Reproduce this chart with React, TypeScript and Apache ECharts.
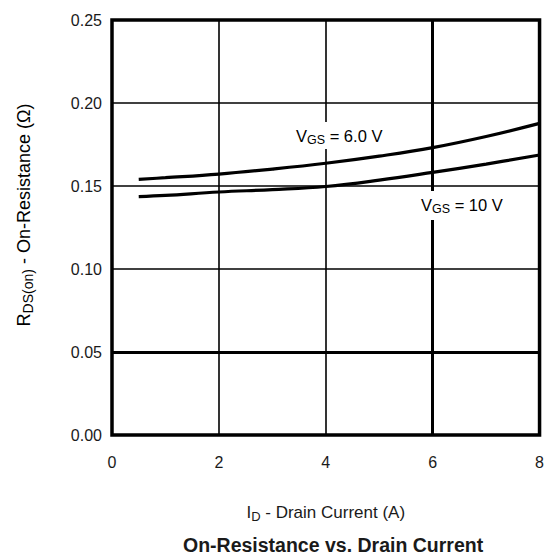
import React, { useEffect, useRef } from "react";
import * as echarts from "echarts";

const currentA = [0.5, 1, 2, 3, 4, 5, 6, 7, 8];
const rds6V = [0.154, 0.155, 0.1572, 0.1602, 0.1637, 0.168, 0.1731, 0.1798, 0.1877];
const rds10V = [0.1436, 0.1443, 0.1464, 0.1478, 0.1497, 0.1535, 0.1582, 0.1632, 0.1687];

const xGridValues = [2, 4, 6];
const xGridWidths = [1.6, 1.6, 3];
const yGridValues = [0.05, 0.1, 0.15, 0.2];
const yGridWidths = [3.2, 1.6, 1.6, 1.6];

const FONT = "'Liberation Sans', Arial, sans-serif";
const INK = "#1a1a1a";

export default function App() {
  const ref = useRef<HTMLDivElement>(null);
  useEffect(() => {
    if (!ref.current) return;
    const chart = echarts.init(ref.current, null, { renderer: "svg" });
    const gridLines: any[] = [];
    xGridValues.forEach((v, i) =>
      gridLines.push({ xAxis: v, lineStyle: { width: xGridWidths[i], color: "#000", type: "solid" } })
    );
    yGridValues.forEach((v, i) =>
      gridLines.push({ yAxis: v, lineStyle: { width: yGridWidths[i], color: "#000", type: "solid" } })
    );
    const labelRich = {
      v: { fontSize: 16.5, fontFamily: FONT, color: INK },
      sub: { fontSize: 12.5, fontFamily: FONT, color: INK, padding: [8, 0, 0, 0] },
    };
    const xNameRich = {
      v: { fontSize: 17, fontFamily: FONT, color: INK },
      sub: { fontSize: 13, fontFamily: FONT, color: INK, padding: [8, 0, 0, 0] },
    };
    const yNameRich = {
      v: { fontSize: 18, fontFamily: FONT, color: INK },
      sub: { fontSize: 14, fontFamily: FONT, color: INK, padding: [8, 0, 0, 0] },
    };
    chart.setOption({
      animation: false,
      backgroundColor: "#fff",
      textStyle: { fontFamily: FONT, color: INK },
      title: {
        text: "On-Resistance vs. Drain Current",
        left: 183,
        top: 535,
        padding: 0,
        textStyle: { fontSize: 19.5, fontWeight: "bold", color: INK, fontFamily: FONT },
      },
      grid: {
        left: 112,
        right: 4,
        top: 20,
        bottom: 122,
        show: true,
        borderWidth: 3.5,
        borderColor: "#000",
        backgroundColor: "#fff",
      },
      xAxis: {
        type: "value",
        min: 0,
        max: 8,
        interval: 2,
        name: "{v|I}{sub|D}{v| - Drain Current (A)}",
        nameLocation: "middle",
        nameGap: 67,
        nameTextStyle: { rich: xNameRich },
        axisLine: { show: false },
        axisTick: { show: false },
        splitLine: { show: false },
        axisLabel: { margin: 19, fontSize: 16, color: INK, fontFamily: FONT },
      },
      yAxis: {
        type: "value",
        min: 0,
        max: 0.25,
        interval: 0.05,
        axisLine: { show: false },
        axisTick: { show: false },
        splitLine: { show: false },
        axisLabel: {
          margin: 10,
          fontSize: 16,
          color: INK,
          fontFamily: FONT,
          formatter: (v: number) => v.toFixed(2),
        },
      },
      series: [
        {
          type: "line",
          data: [],
          silent: true,
          z: 1,
          markLine: {
            silent: true,
            symbol: "none",
            label: { show: false },
            animation: false,
            data: gridLines,
          },
        },
        {
          name: "VGS = 6.0 V",
          type: "line",
          smooth: 0.4,
          showSymbol: false,
          z: 3,
          lineStyle: { color: "#000", width: 3.2 },
          data: currentA.map((x, i) => [x, rds6V[i]]),
        },
        {
          name: "VGS = 10 V",
          type: "line",
          smooth: 0.4,
          showSymbol: false,
          z: 3,
          lineStyle: { color: "#000", width: 3.2 },
          data: currentA.map((x, i) => [x, rds10V[i]]),
        },
      ],
      graphic: [
        {
          type: "text",
          z: 100,
          x: 294,
          y: 122,
          style: {
            text: "{v|V}{sub|GS}{v| = 6.0 V}",
            rich: labelRich,
            backgroundColor: "#fff",
            padding: [3, 2, 3, 2],
          },
        },
        {
          type: "text",
          z: 100,
          x: 419,
          y: 191,
          style: {
            text: "{v|V}{sub|GS}{v| = 10 V}",
            rich: labelRich,
            backgroundColor: "#fff",
            padding: [3, 2, 5, 2],
          },
        },
        {
          type: "text",
          z: 100,
          x: 24,
          y: 215,
          rotation: Math.PI / 2,
          style: {
            text: "{v|R}{sub|DS(on)}{v| - On-Resistance (Ω)}",
            rich: yNameRich,
            align: "center",
            verticalAlign: "middle",
          },
        },
      ],
    });
    return () => chart.dispose();
  }, []);
  return (
    <div
      ref={ref}
      style={{ position: "fixed", left: 0, top: 0, width: 547, height: 557 }}
    />
  );
}
